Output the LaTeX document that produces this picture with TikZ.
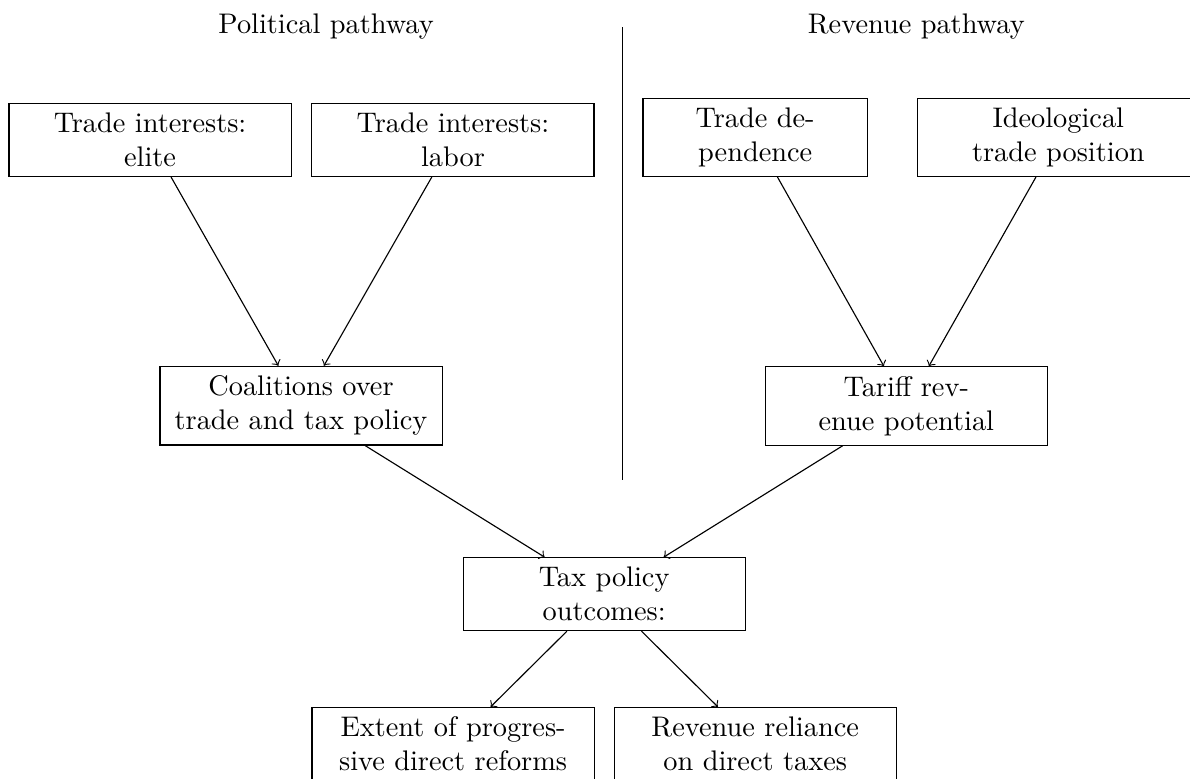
\documentclass[tikz,border=0pt]{standalone}
\begin{document}
\begin{tikzpicture}[box/.style={draw,text width=3.17cm,minimum width=3.5cm,align=center}]
\useasboundingbox (0,0) rectangle (14.76,-9.65);
\node [anchor=base] (polhead) at (4.045,-0.42) {Political pathway};
\node [anchor=base] (revhead) at (11.365,-0.42) {Revenue pathway};
\coordinate (divtop) at (7.726,-0.34);
\coordinate (divbot) at (7.726,-5.955);
\draw (divtop) -- (divbot);
\node [box,anchor=south] (elite) at (1.861,-2.196) {Trade interests:\\ elite};
\node [box,anchor=south] (labor) at (5.618,-2.196) {Trade interests:\\ labor};
\node [box,anchor=south,text width=2.55cm,minimum width=0pt] (dep) at (9.367,-2.196) {Trade dependence};
\node [box,anchor=south] (ideo) at (13.127,-2.196) {Ideological trade position};
\node [box,anchor=south] (coal) at (3.734,-5.527) {Coalitions over trade and tax policy};
\node [box,anchor=south] (tariff) at (11.241,-5.53) {Tariff revenue potential};
\node [box,anchor=south] (outc) at (7.494,-7.829) {Tax policy outcomes:};
\node [box,anchor=north] (reform) at (5.62,-8.768) {Extent of progressive direct reforms};
\node [box,anchor=north] (reliance) at (9.367,-8.768) {Revenue reliance on direct taxes};
\draw [->] (elite) -- (coal);
\draw [->] (labor) -- (coal);
\draw [->] (dep) -- (tariff);
\draw [->] (ideo) -- (tariff);
\draw [->] (coal) -- (outc);
\draw [->] (tariff) -- (outc);
\draw [->] (outc) -- (reform);
\draw [->] (outc) -- (reliance);
\end{tikzpicture}
\end{document}
